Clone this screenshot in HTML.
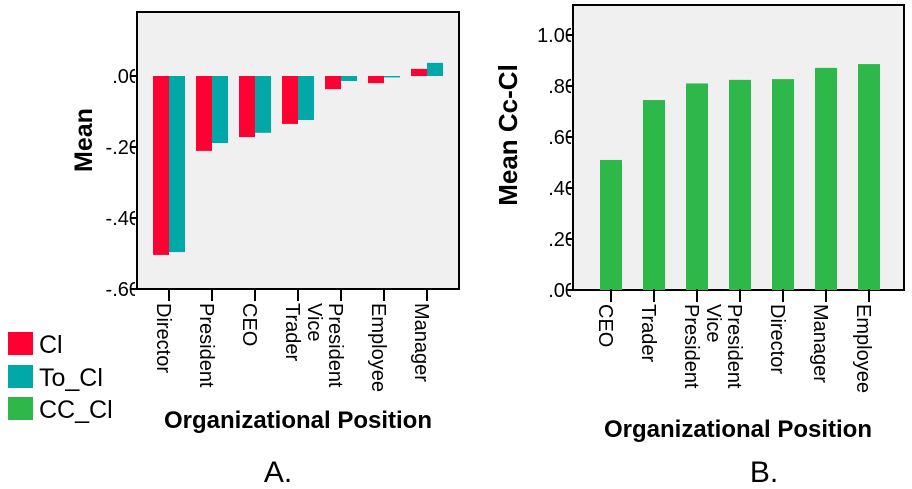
<!DOCTYPE html>
<html><head><meta charset="utf-8"><style>body{margin:0;background:#fff}svg{display:block;font-family:"Liberation Sans",sans-serif}</style></head>
<body>
<svg id="s" width="912" height="489">
<defs>
<clipPath id="ca"><rect x="0" y="0" width="135" height="300"/></clipPath>
<clipPath id="cb"><rect x="470" y="0" width="101" height="300"/></clipPath>
</defs>
<rect x="137" y="12" width="322" height="277" fill="#f0f0f0" stroke="#000" stroke-width="2"/>
<rect x="573" y="5" width="331" height="285" fill="#f0f0f0" stroke="#000" stroke-width="2"/>
<g id="ga"></g><g id="gb"></g>
<text transform="translate(92,140) rotate(-90)" text-anchor="middle" font-size="25" font-weight="bold">Mean</text>
<text transform="translate(517,135) rotate(-90)" text-anchor="middle" font-size="26" font-weight="bold">Mean Cc-Cl</text>
<text x="298" y="428" text-anchor="middle" font-size="24" font-weight="bold">Organizational Position</text>
<text x="738" y="437" text-anchor="middle" font-size="24" font-weight="bold">Organizational Position</text>
<text x="278" y="482" text-anchor="middle" font-size="30">A.</text>
<text x="764" y="482" text-anchor="middle" font-size="30">B.</text>
<g>
<rect x="8" y="332" width="25" height="23" fill="#ff0033"/>
<text x="39" y="353" font-size="25">Cl</text>
<rect x="8" y="365" width="25" height="23" fill="#00a8a8"/>
<text x="39" y="386" font-size="25">To_Cl</text>
<rect x="8" y="397" width="25" height="23" fill="#2eb84a"/>
<text x="39" y="418" font-size="25">CC_Cl</text>
</g>
</svg>
<script>
const catsA=["Director","President","CEO","Trader","Vice|President","Employee","Manager"];
const clVals=[-0.504,-0.211,-0.172,-0.135,-0.037,-0.02,0.02];
const toClVals=[-0.496,-0.189,-0.16,-0.124,-0.014,-0.004,0.037];
const ticksA=[0,-0.2,-0.4,-0.6];
const tickLabA=[".00","-.20","-.40","-.60"];
const catsB=["CEO","Trader","President","Vice|President","Director","Manager","Employee"];
const ccVals=[0.51,0.745,0.81,0.824,0.827,0.871,0.886];
const ticksB=[0,0.2,0.4,0.6,0.8,1.0];
const tickLabB=[".00",".20",".40",".60",".80","1.00"];
const NS="http://www.w3.org/2000/svg";
function mk(p,t,a){const e=document.createElementNS(NS,t);for(const k in a)e.setAttribute(k,a[k]);p.appendChild(e);return e;}
const ya=v=>76-v*355, xa=i=>169+i*43;
const yb=v=>290-v*255, xb=i=>611+i*43;
const ga=document.getElementById('ga'), gb=document.getElementById('gb');
function labels(g,cats,xf,y0){cats.forEach((c,i)=>{const x=xf(i);
 const tk=mk(g,'line',{x1:x,y1:y0-2,x2:x,y2:y0+11,stroke:'#000','stroke-width':2});
 
 
 const parts=c.split('|');
 parts.forEach((p,j)=>{const off=(parts.length-1-j)*21;
  const t=mk(g,'text',{transform:`translate(${x-12-off},${y0+13}) rotate(90)`,'font-size':20});
  t.textContent=p;
  
  });});}
function yt(g,ticks,labs,yf,ax,clip){ticks.forEach((v,i)=>{const y=yf(v);
 const l=mk(g,'line',{x1:ax-7,y1:y,x2:ax,y2:y,stroke:'#000','stroke-width':2});
 
 
 const t=mk(g,'text',{x:ax+3,y:y+7,'text-anchor':'end','font-size':20,'clip-path':`url(#${clip})`});
 t.textContent=labs[i];
 
 });}
clVals.forEach((v,i)=>{const r=mk(ga,'rect',{x:xa(i)-16,y:Math.min(ya(v),ya(0)),width:16,height:Math.abs(ya(v)-ya(0)),fill:'#ff0033'});
 
 });
toClVals.forEach((v,i)=>{const r=mk(ga,'rect',{x:xa(i),y:Math.min(ya(v),ya(0)),width:16,height:Math.abs(ya(v)-ya(0)),fill:'#00a8a8'});
 
 });
ccVals.forEach((v,i)=>{const r=mk(gb,'rect',{x:xb(i)-11,y:yb(v),width:22,height:yb(0)-yb(v),fill:'#2eb84a'});
 
 });
yt(ga,ticksA,tickLabA,ya,137,'ca');
yt(gb,ticksB,tickLabB,yb,573,'cb');
labels(ga,catsA,xa,290);
labels(gb,catsB,xb,291);
</script>
</body></html>
